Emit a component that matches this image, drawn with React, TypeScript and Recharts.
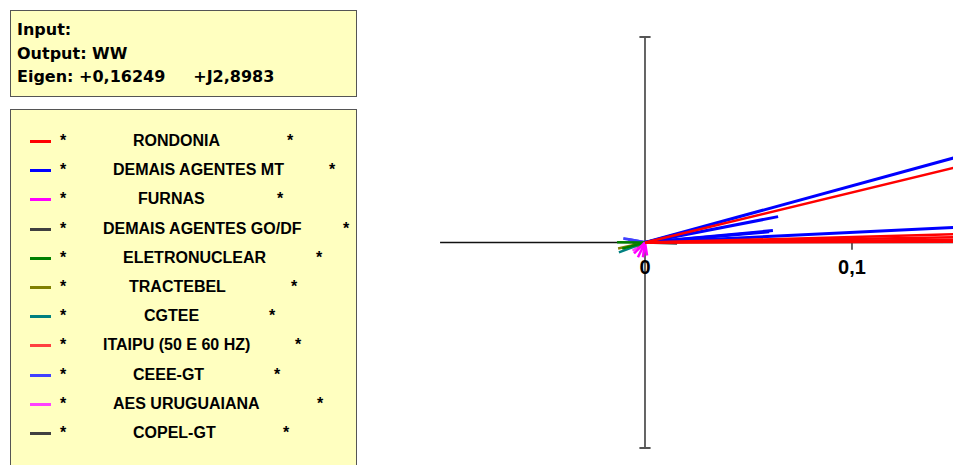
import { LineChart, Line, XAxis, YAxis, ReferenceLine } from 'recharts';

// eigenvalue shown in the info box
const inputName = '';
const outputName = 'WW';
const eigenReal = '+0,16249';
const eigenImag = '+J2,8983';

const agents = [
  'RONDONIA',
  'DEMAIS AGENTES MT',
  'FURNAS',
  'DEMAIS AGENTES GO/DF',
  'ELETRONUCLEAR',
  'TRACTEBEL',
  'CGTEE',
  'ITAIPU (50 E 60 HZ)',
  'CEEE-GT',
  'AES URUGUAIANA',
  'COPEL-GT',
];

const agentColors = [
  '#ff0000',
  '#0000ff',
  '#ff00ff',
  '#404040',
  '#008000',
  '#808000',
  '#008080',
  '#ff4040',
  '#4040ff',
  '#ff40ff',
  '#404040',
];

// phasor tips (real, imag) for the units of each agent
const rondonia = [[0.19, 0.0463], [0.19, 0.0051], [0.19, 0.0033], [0.19, 0.0017], [0.19, 0.0005]];
const demaisMT = [[0.19, 0.0524], [0.0643, 0.0126], [0.0618, 0.0058], [0.06, 0.0052], [0.19, 0.0093]];
const furnas = [[-0.0053, -0.0053], [-0.0034, -0.0072], [-0.001, -0.0072], [0.001, -0.0063]];
const demaisGODF = [[0.018, 0.0048], [0.0155, -0.0005]];
const eletronuclear = [[-0.0135, 0.0001], [-0.011, -0.003]];
const tractebel = [[-0.013, -0.0029]];
const cgtee = [[-0.0126, -0.0048]];
const itaipu = [[-0.004, -0.002]];
const ceeeGT = [[-0.0105, 0.002], [-0.008, 0.0015]];
const aesUruguaiana = [[-0.006, -0.004]];
const copelGT = [[-0.006, -0.001]];

const phasors = [rondonia, demaisMT, furnas, demaisGODF, eletronuclear, tractebel, cgtee, itaipu, ceeeGT, aesUruguaiana, copelGT];

const xTicks = [0, 0.1];
const xTickLabels = ['0', '0,1'];

// legend text placement: [label left, second star left]
const legendLayout = [
  [133, 287], [113, 329], [138, 277], [103, 343], [123, 316], [129, 291],
  [144, 269], [103, 295], [133, 274], [113, 317], [133, 283],
];

const tickFont = { fill: '#000', fontSize: 20, fontWeight: 'bold', fontFamily: '"Liberation Sans", Arial, sans-serif' };

export default function App() {
  const order = agents.map((_, i) => agents.length - 1 - i);
  return (
    <div style={{ position: 'absolute', left: 0, top: 0, width: 953, height: 465, overflow: 'hidden', background: '#fff' }}>
      <div style={{ position: 'absolute', left: 0, top: 0 }}>
        <LineChart width={953} height={465} margin={{ top: 37, right: 0, bottom: 17, left: 438 }}>
          <XAxis type="number" dataKey="x" domain={[-0.1, 0.1488]} allowDataOverflow hide />
          <YAxis type="number" domain={[-0.1, 0.1]} allowDataOverflow hide />
          <ReferenceLine segment={[{ x: 0, y: -0.1 }, { x: 0, y: 0.1 }]} stroke="#333" strokeWidth={1.5} />
          <ReferenceLine segment={[{ x: -0.0027, y: 0.1 }, { x: 0.0027, y: 0.1 }]} stroke="#555" strokeWidth={2} />
          <ReferenceLine segment={[{ x: -0.0027, y: -0.1 }, { x: 0.0027, y: -0.1 }]} stroke="#555" strokeWidth={2} />
          <ReferenceLine segment={[{ x: -0.099, y: 0 }, { x: 0.1488, y: 0 }]} stroke="#111" strokeWidth={1.5} />
          {xTicks.map((t, i) => (
            <ReferenceLine
              key={'tick' + i}
              segment={[{ x: t, y: 0 }, { x: t, y: -0.0035 }]}
              stroke={t === 0 ? 'none' : '#333'}
              strokeWidth={1.5}
              label={{ value: xTickLabels[i], position: 'bottom', offset: 10, ...tickFont }}
            />
          ))}
          {order.map((a) =>
            phasors[a].map((p, j) => (
              <Line
                key={a + '-' + j}
                data={[{ x: 0, y: 0 }, { x: p[0], y: p[1] }]}
                dataKey="y"
                type="linear"
                stroke={agentColors[a]}
                strokeWidth={a === 1 || a === 8 ? 3 : 2.5}
                dot={false}
                activeDot={false}
                isAnimationActive={false}
              />
            ))
          )}
        </LineChart>
      </div>

      <div
        style={{
          position: 'absolute', left: 10, top: 10, width: 339, height: 78,
          background: '#ffffc0', border: '1px solid #555', padding: '7px 0 0 6px', boxSizing: 'content-box',
          fontFamily: '"DejaVu Sans", Verdana, sans-serif', fontWeight: 'bold', fontSize: 16, lineHeight: '23.5px',
          whiteSpace: 'pre', color: '#000',
        }}
      >
        <div>Input: {inputName}</div>
        <div>Output: {outputName}</div>
        <div>Eigen: {eigenReal}     {eigenImag}</div>
      </div>

      <div
        style={{
          position: 'absolute', left: 10, top: 109, width: 345, height: 400,
          background: '#ffffc0', border: '1px solid #555',
          fontFamily: '"Liberation Sans", Arial, sans-serif', fontWeight: 'bold', fontSize: 16, color: '#000',
        }}
      >
        {agents.map((name, i) => {
          const top = 141 + i * 29.2 - 110 - 10;
          return (
            <div key={name} style={{ position: 'absolute', left: 0, top, height: 20, width: 345, lineHeight: '20px' }}>
              <div style={{ position: 'absolute', left: 19, top: 9, width: 21, height: 3, background: agentColors[i] }} />
              <span style={{ position: 'absolute', left: 49 }}>*</span>
              <span style={{ position: 'absolute', left: legendLayout[i][0] - 11, whiteSpace: 'pre' }}>{name}</span>
              <span style={{ position: 'absolute', left: legendLayout[i][1] - 11 }}>*</span>
            </div>
          );
        })}
      </div>
    </div>
  );
}
